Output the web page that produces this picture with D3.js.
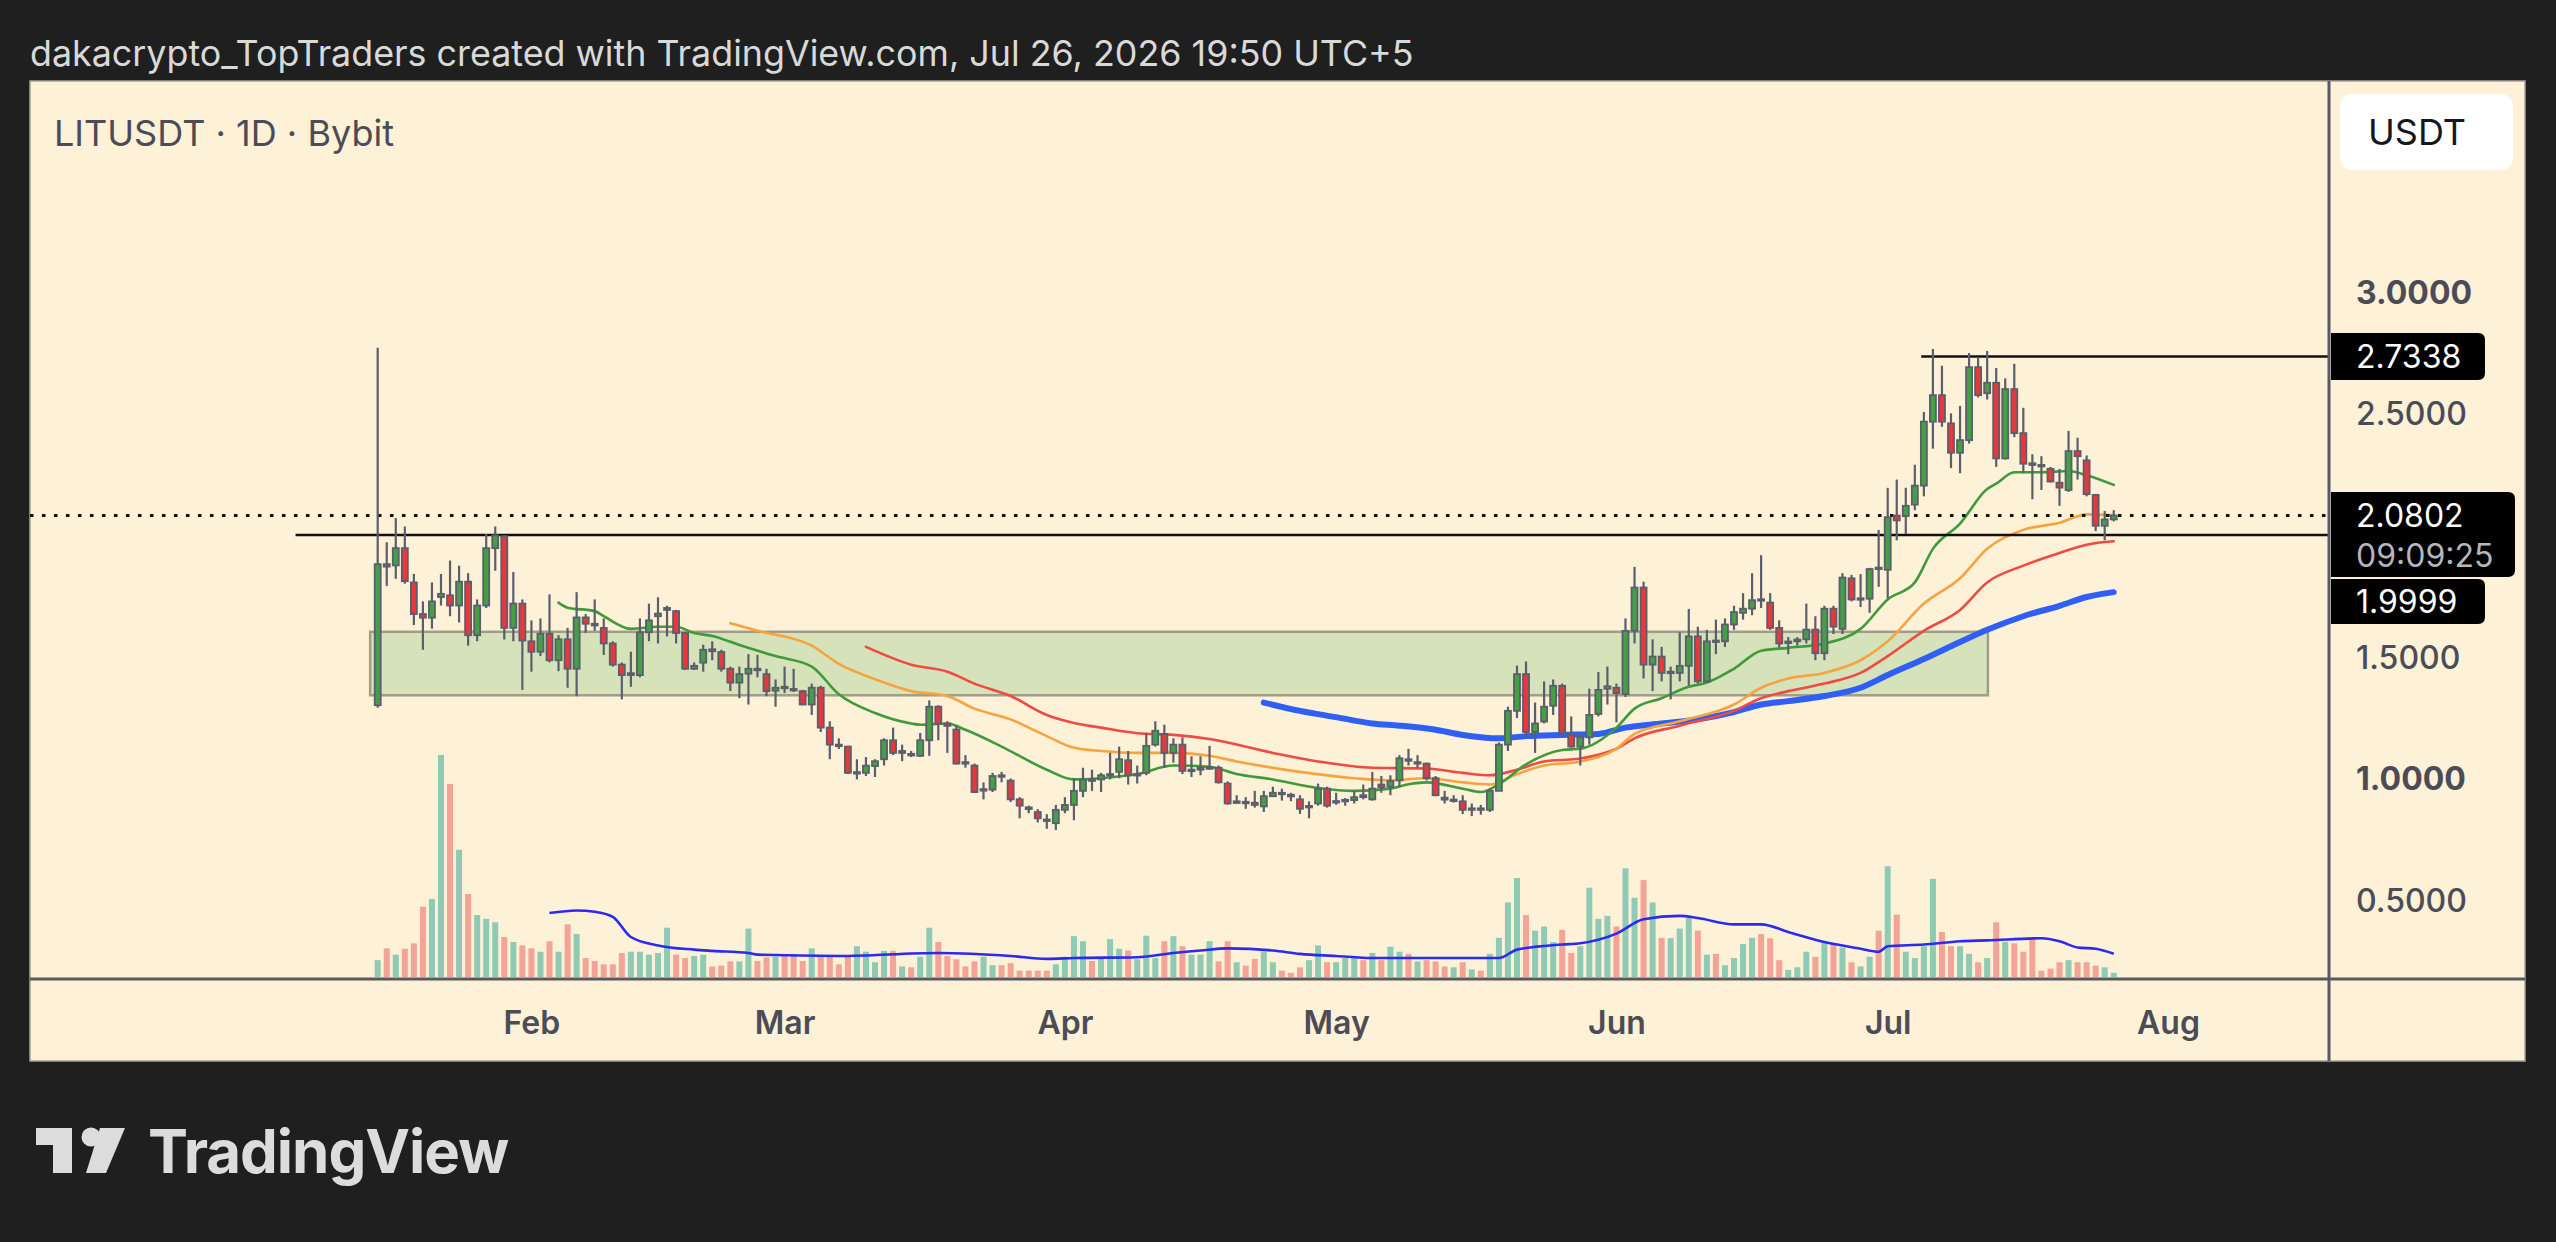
<!DOCTYPE html>
<html>
<head>
<meta charset="utf-8">
<script src="https://cdn.jsdelivr.net/npm/d3@7"></script>
<style>
html, body { margin: 0; padding: 0; background: #1f1f1f; }
svg { display: block; font-family: Inter, "Noto Sans", sans-serif; }
</style>
</head>
<body>
<svg id="chart" width="2556" height="1242"></svg>
<script>
// LITUSDT 1D candles, first candle on this day
const firstDay = "2026-01-15";

// [open, high, low, close]
const ohlc = [
  [1.30, 2.77, 1.29, 1.88], [1.88, 1.97, 1.79, 1.87], [1.875, 2.07, 1.82, 1.946], [1.946, 2.035, 1.80, 1.81],
  [1.805, 1.84, 1.63, 1.675], [1.675, 1.727, 1.528, 1.66], [1.66, 1.805, 1.615, 1.727], [1.745, 1.84, 1.71, 1.758],
  [1.752, 1.895, 1.666, 1.71], [1.71, 1.874, 1.64, 1.808], [1.808, 1.843, 1.545, 1.588], [1.588, 1.735, 1.563, 1.71],
  [1.71, 2.004, 1.70, 1.946], [1.946, 2.035, 1.853, 1.998], [1.995, 1.998, 1.57, 1.618], [1.618, 1.848, 1.563, 1.718],
  [1.718, 1.735, 1.363, 1.566], [1.563, 1.649, 1.438, 1.52], [1.52, 1.657, 1.502, 1.594], [1.594, 1.756, 1.476, 1.485],
  [1.485, 1.588, 1.44, 1.571], [1.571, 1.618, 1.372, 1.45], [1.45, 1.765, 1.337, 1.661], [1.661, 1.675, 1.597, 1.635],
  [1.635, 1.735, 1.606, 1.628], [1.618, 1.657, 1.507, 1.554], [1.554, 1.563, 1.459, 1.467], [1.467, 1.476, 1.324, 1.424],
  [1.424, 1.52, 1.376, 1.432], [1.424, 1.657, 1.415, 1.60], [1.60, 1.718, 1.563, 1.649], [1.666, 1.744, 1.554, 1.677],
  [1.692, 1.709, 1.583, 1.70], [1.687, 1.692, 1.554, 1.597], [1.597, 1.60, 1.445, 1.45], [1.45, 1.476, 1.445, 1.462],
  [1.475, 1.549, 1.438, 1.528], [1.53, 1.563, 1.485, 1.522], [1.519, 1.528, 1.438, 1.45], [1.45, 1.459, 1.358, 1.393],
  [1.393, 1.459, 1.329, 1.428], [1.43, 1.51, 1.303, 1.45], [1.45, 1.507, 1.415, 1.445], [1.428, 1.45, 1.337, 1.358],
  [1.36, 1.406, 1.294, 1.372], [1.376, 1.459, 1.35, 1.372], [1.367, 1.45, 1.355, 1.363], [1.358, 1.363, 1.30, 1.303],
  [1.303, 1.389, 1.26, 1.372], [1.372, 1.38, 1.19, 1.208], [1.208, 1.234, 1.078, 1.138], [1.138, 1.164, 1.12, 1.133],
  [1.13, 1.133, 1.017, 1.022], [1.022, 1.078, 0.995, 1.025], [1.022, 1.087, 1.009, 1.052], [1.05, 1.078, 1.005, 1.07],
  [1.078, 1.164, 1.052, 1.156], [1.156, 1.208, 1.095, 1.104], [1.104, 1.138, 1.07, 1.112], [1.10, 1.112, 1.087, 1.095],
  [1.092, 1.186, 1.087, 1.156], [1.156, 1.32, 1.092, 1.294], [1.294, 1.30, 1.156, 1.225], [1.225, 1.234, 1.104, 1.215],
  [1.20, 1.217, 1.057, 1.06], [1.066, 1.095, 1.043, 1.062], [1.052, 1.06, 0.94, 0.943], [0.95, 0.983, 0.913, 0.955],
  [0.953, 1.022, 0.943, 1.009], [1.012, 1.026, 0.983, 1.008], [0.99, 0.999, 0.902, 0.913], [0.913, 0.922, 0.835, 0.887],
  [0.88, 0.887, 0.856, 0.873], [0.861, 0.873, 0.818, 0.835], [0.83, 0.852, 0.792, 0.826], [0.815, 0.89, 0.787, 0.87],
  [0.87, 0.922, 0.856, 0.89], [0.89, 0.999, 0.827, 0.948], [0.948, 1.043, 0.922, 0.995], [0.995, 1.035, 0.948, 0.99],
  [0.995, 1.022, 0.943, 1.012], [1.012, 1.104, 0.995, 1.017], [1.026, 1.13, 1.00, 1.078], [1.074, 1.112, 0.974, 1.012],
  [1.012, 1.052, 0.978, 1.017], [1.022, 1.186, 1.012, 1.133], [1.138, 1.234, 1.13, 1.195], [1.182, 1.22, 1.043, 1.104],
  [1.104, 1.164, 1.064, 1.138], [1.138, 1.168, 1.017, 1.03], [1.03, 1.09, 1.005, 1.035], [1.035, 1.09, 1.012, 1.043],
  [1.043, 1.133, 1.035, 1.045], [1.043, 1.052, 0.978, 0.983], [0.978, 0.987, 0.891, 0.896], [0.898, 0.93, 0.896, 0.905],
  [0.903, 0.922, 0.874, 0.899], [0.899, 0.948, 0.879, 0.89], [0.884, 0.948, 0.861, 0.926], [0.926, 0.965, 0.926, 0.94],
  [0.94, 0.957, 0.908, 0.936], [0.932, 0.94, 0.905, 0.925], [0.913, 0.93, 0.853, 0.874], [0.88, 0.905, 0.835, 0.886],
  [0.896, 0.978, 0.887, 0.957], [0.957, 0.965, 0.879, 0.887], [0.90, 0.94, 0.891, 0.906], [0.906, 0.918, 0.887, 0.911],
  [0.91, 0.948, 0.896, 0.922], [0.93, 0.974, 0.913, 0.922], [0.913, 1.026, 0.908, 0.957], [0.974, 1.009, 0.94, 0.962],
  [0.965, 1.012, 0.93, 0.988], [0.991, 1.095, 0.965, 1.082], [1.078, 1.121, 1.052, 1.072], [1.062, 1.095, 1.043, 1.066],
  [1.06, 1.064, 0.991, 1.00], [1.00, 1.009, 0.926, 0.93], [0.92, 0.948, 0.896, 0.912], [0.908, 0.93, 0.90, 0.912],
  [0.905, 0.93, 0.853, 0.87], [0.872, 0.896, 0.844, 0.876], [0.876, 0.89, 0.85, 0.872], [0.87, 0.957, 0.861, 0.948],
  [0.948, 1.147, 0.948, 1.138], [1.138, 1.294, 1.112, 1.277], [1.277, 1.463, 1.247, 1.428], [1.428, 1.48, 1.168, 1.19],
  [1.19, 1.311, 1.104, 1.225], [1.233, 1.398, 1.225, 1.294], [1.298, 1.406, 1.26, 1.38], [1.38, 1.389, 1.178, 1.186],
  [1.178, 1.254, 1.126, 1.13], [1.13, 1.182, 1.052, 1.168], [1.168, 1.368, 1.138, 1.26], [1.264, 1.437, 1.254, 1.363],
  [1.368, 1.459, 1.303, 1.378], [1.372, 1.389, 1.23, 1.35], [1.346, 1.657, 1.334, 1.606], [1.606, 1.869, 1.554, 1.784],
  [1.784, 1.808, 1.41, 1.467], [1.467, 1.571, 1.358, 1.50], [1.50, 1.54, 1.398, 1.433], [1.433, 1.459, 1.324, 1.438],
  [1.433, 1.60, 1.398, 1.462], [1.462, 1.696, 1.38, 1.583], [1.583, 1.623, 1.389, 1.398], [1.398, 1.61, 1.393, 1.563],
  [1.566, 1.652, 1.51, 1.562], [1.563, 1.657, 1.54, 1.632], [1.632, 1.709, 1.61, 1.683], [1.68, 1.761, 1.652, 1.697],
  [1.697, 1.843, 1.67, 1.732], [1.736, 1.917, 1.70, 1.73], [1.722, 1.761, 1.61, 1.618], [1.618, 1.649, 1.537, 1.554],
  [1.556, 1.58, 1.51, 1.562], [1.563, 1.58, 1.545, 1.57], [1.571, 1.718, 1.554, 1.611], [1.611, 1.666, 1.485, 1.514],
  [1.514, 1.709, 1.485, 1.697], [1.697, 1.709, 1.593, 1.623], [1.614, 1.843, 1.593, 1.825], [1.822, 1.836, 1.727, 1.735],
  [1.736, 1.839, 1.704, 1.74], [1.738, 1.865, 1.68, 1.86], [1.866, 2.021, 1.787, 1.862], [1.857, 2.194, 1.739, 2.073],
  [2.08, 2.228, 1.978, 2.06], [2.078, 2.194, 2.004, 2.12], [2.125, 2.289, 2.102, 2.203], [2.203, 2.506, 2.159, 2.466],
  [2.466, 2.765, 2.355, 2.575], [2.575, 2.696, 2.445, 2.466], [2.459, 2.50, 2.275, 2.338], [2.338, 2.531, 2.254, 2.39],
  [2.39, 2.748, 2.376, 2.69], [2.69, 2.73, 2.566, 2.575], [2.583, 2.757, 2.557, 2.626], [2.626, 2.687, 2.28, 2.315],
  [2.315, 2.644, 2.31, 2.60], [2.60, 2.704, 2.402, 2.419], [2.419, 2.523, 2.255, 2.293], [2.295, 2.332, 2.147, 2.288],
  [2.288, 2.324, 2.185, 2.284], [2.272, 2.28, 2.216, 2.22], [2.215, 2.272, 2.12, 2.195], [2.185, 2.428, 2.177, 2.345],
  [2.345, 2.40, 2.228, 2.324], [2.307, 2.327, 2.159, 2.168], [2.165, 2.168, 2.016, 2.038], [2.038, 2.099, 1.978, 2.064],
  [2.064, 2.102, 2.056, 2.0802]
];

// daily volume (relative units)
const volumes = [
  40, 68, 53, 67, 80, 167, 185, 527, 458, 302, 197, 147, 138, 130, 95, 83, 75, 68, 60, 85,
  60, 125, 102, 45, 38, 30, 30, 57, 60, 60, 53, 57, 117, 53, 45, 50, 53, 25,
  27, 37, 37, 115, 38, 47, 48, 50, 55, 38, 68, 48, 48, 30, 48, 73, 60, 35, 62, 62, 25, 23,
  48, 117, 83, 50, 42, 25, 37, 48, 28, 28, 33, 15, 15, 15, 15, 30, 48,
  97, 85, 38, 45, 90, 67, 63, 42, 98, 45, 85, 97, 73, 53, 53, 85, 37, 85, 35, 27,
  43, 60, 35, 15, 10, 23, 40, 75, 35, 35, 45, 45, 40, 57, 40, 72, 60, 55, 37, 40, 37,
  25, 23, 35, 18, 15, 55, 93, 177, 235, 147, 110, 120, 83, 112, 57, 73, 212, 138, 145, 120,
  258, 188, 230, 177, 93, 92, 115, 140, 110, 53, 55, 28, 45, 78, 93, 102, 92, 40, 17,
  23, 60, 48, 83, 80, 70, 35, 25, 48, 110, 263, 148, 60, 45, 73, 233, 107, 73, 73, 55,
  35, 45, 130, 83, 80, 60, 90, 15, 20, 35, 40, 35, 35, 27, 23, 10
];

// moving averages: [day index, value]
const maGreen = [
  [20, 1.722], [21, 1.701], [24, 1.687], [25, 1.666], [28, 1.614], [31, 1.623], [33, 1.623], [35, 1.597],
  [37, 1.585], [40, 1.548], [44, 1.502], [48, 1.459], [51, 1.345], [55, 1.268], [59, 1.225], [60, 1.22],
  [63, 1.225], [65, 1.199], [69, 1.13], [74, 1.035], [77, 0.995], [80, 1.0], [84, 1.017], [88, 1.052],
  [92, 1.047], [95, 1.017], [99, 0.995], [104, 0.96], [108, 0.948], [112, 0.957], [114, 0.975], [116, 0.983],
  [120, 0.957], [122, 0.943], [124, 0.975], [127, 1.057], [131, 1.116], [133, 1.121], [137, 1.208], [139, 1.286],
  [142, 1.329], [145, 1.376], [147, 1.393], [150, 1.45], [153, 1.524], [156, 1.536], [160, 1.554], [164, 1.614],
  [167, 1.735], [170, 1.805], [172, 1.943], [175, 2.047], [178, 2.189], [179, 2.211], [181, 2.258], [184, 2.258],
  [187, 2.263], [189, 2.246], [192, 2.206]
];
const maOrange = [
  [39, 1.637], [42, 1.606], [48, 1.545], [51, 1.47], [55, 1.407], [59, 1.358], [63, 1.338], [66, 1.286],
  [70, 1.242], [74, 1.173], [77, 1.125], [80, 1.112], [84, 1.104], [88, 1.104], [92, 1.092], [95, 1.069],
  [102, 1.026], [108, 1.0], [112, 0.991], [116, 1.0], [120, 0.983], [123, 0.974], [126, 1.017], [129, 1.052],
  [133, 1.069], [137, 1.121], [139, 1.182], [144, 1.234], [150, 1.303], [153, 1.372], [156, 1.41], [160, 1.433],
  [164, 1.485], [167, 1.563], [171, 1.718], [175, 1.822], [178, 1.943], [182, 2.021], [186, 2.05], [189, 2.085],
  [192, 2.081]
];
const maRed = [
  [54, 1.54], [59, 1.467], [63, 1.438], [66, 1.389], [70, 1.338], [74, 1.26], [77, 1.227], [80, 1.208],
  [84, 1.185], [88, 1.178], [92, 1.161], [99, 1.104], [104, 1.069], [110, 1.043], [116, 1.04], [120, 1.022],
  [123, 1.012], [126, 1.035], [129, 1.069], [133, 1.081], [137, 1.121], [139, 1.164], [144, 1.216], [150, 1.277],
  [153, 1.329], [156, 1.358], [160, 1.389], [164, 1.433], [167, 1.502], [171, 1.606], [175, 1.692], [178, 1.805],
  [182, 1.874], [186, 1.926], [189, 1.96], [192, 1.974]
];
const maBlue = [
  [98, 1.311], [102, 1.277], [106, 1.251], [110, 1.225], [113, 1.216], [117, 1.199], [120, 1.178], [124, 1.164],
  [127, 1.173], [131, 1.178], [135, 1.182], [138, 1.208], [142, 1.225], [146, 1.242], [150, 1.272], [153, 1.303],
  [156, 1.317], [160, 1.338], [164, 1.372], [167, 1.424], [171, 1.49], [175, 1.56], [178, 1.61], [182, 1.666],
  [186, 1.709], [189, 1.745], [192, 1.765]
];
const maVolume = [
  [19, 152], [22, 158], [24, 155], [26, 143], [28, 95], [31, 75], [35, 65], [37, 62], [41, 57], [42, 53],
  [51, 50], [62, 57], [70, 50], [74, 43], [77, 45], [84, 47], [88, 57], [91, 63], [94, 68], [99, 63],
  [102, 55], [106, 50], [110, 45], [117, 45], [124, 45], [126, 65], [131, 77], [133, 80], [137, 103], [140, 137],
  [144, 145], [146, 140], [150, 125], [153, 125], [156, 107], [160, 83], [164, 67], [166, 60], [167, 73], [171, 77],
  [175, 85], [178, 87], [184, 92], [186, 85], [188, 70], [190, 67], [192, 55]
];

// drawings
const rangeBox = { from: "2026-01-14T04:00Z", to: "2026-07-12T02:00Z", top: 1.602, bottom: 1.341 };
const resistance = { from: "2026-07-04T17:00Z", price: 2.7338 };
const support = { from: "2026-01-05T22:00Z", price: 1.9999 };
const lastPrice = 2.0802;
const countdown = "09:09:25";

const monthTicks = ["2026-02-01", "2026-03-01", "2026-04-01", "2026-05-01", "2026-06-01", "2026-07-01", "2026-08-01"];
const priceTicks = [0.5, 1.0, 1.5, 2.5, 3.0];
const boldTicks = [1.0, 3.0];

const headerText = "dakacrypto_TopTraders created with TradingView.com, Jul 26, 2026 19:50 UTC+5";
const titleText = "LITUSDT · 1D · Bybit";

// ---------------------------------------------------------------
const svg = d3.select("#chart");
const panel = { x: 30, y: 81, w: 2495, h: 980 };
const axisX = 2329, timeY = 979;
const UP = "#43a047", DOWN = "#e8383b", EDGE = "#5b5e6b";
const VOL_UP = "#8fcab4", VOL_DOWN = "#f3a496";
const TEXT = "#4c4c56";

const day0 = new Date(firstDay + "T00:00Z");
const dayAt = i => d3.utcDay.offset(day0, i);
const candles = ohlc.map((r, i) => ({ date: dayAt(i), o: r[0], h: r[1], l: r[2], c: r[3], v: volumes[i] }));

const x = d3.scaleUtc()
  .domain([new Date("2026-01-15T00:00Z"), new Date("2026-08-01T00:00Z")])
  .range([377.7, 2168.0]);
const y = d3.scaleLinear().domain([0.5, 3.0]).range([899.8, 291.8]);
const yVol = d3.scaleLinear().domain([0, 527]).range([977, 755]);

function fitText(sel, width) {
  const w = sel.node().getComputedTextLength();
  const fs = parseFloat(sel.attr("font-size"));
  sel.attr("font-size", (fs * width / w).toFixed(2));
}

// header
const header = svg.append("text")
  .attr("x", 30).attr("y", 66)
  .attr("font-size", 32).attr("fill", "#d9d9d9")
  .text(headerText);
fitText(header, 1384);

// panel background
svg.append("rect")
  .attr("x", panel.x).attr("y", panel.y)
  .attr("width", panel.w).attr("height", panel.h)
  .attr("fill", "#fdf1d7").attr("stroke", "#a7a299").attr("stroke-width", 1.5);

svg.append("clipPath").attr("id", "plot")
  .append("rect").attr("x", panel.x).attr("y", panel.y)
  .attr("width", axisX - panel.x).attr("height", timeY - panel.y);

const plot = svg.append("g").attr("clip-path", "url(#plot)");

// range box
plot.append("rect")
  .attr("x", x(new Date(rangeBox.from)))
  .attr("y", y(rangeBox.top))
  .attr("width", x(new Date(rangeBox.to)) - x(new Date(rangeBox.from)))
  .attr("height", y(rangeBox.bottom) - y(rangeBox.top))
  .attr("fill", "#d5e2ba")
  .attr("stroke", "#a29d89").attr("stroke-width", 2.5);

// volume bars
plot.append("g").selectAll("rect")
  .data(candles).join("rect")
  .attr("x", d => x(d.date) - 3)
  .attr("width", 6)
  .attr("y", d => yVol(d.v))
  .attr("height", d => yVol(0) - yVol(d.v))
  .attr("fill", d => d.c >= d.o ? VOL_UP : VOL_DOWN);

// volume MA
plot.append("path")
  .datum(maVolume)
  .attr("fill", "none").attr("stroke", "#2a2af0").attr("stroke-width", 2.6)
  .attr("d", d3.line().x(d => x(dayAt(d[0]))).y(d => yVol(d[1])).curve(d3.curveMonotoneX));

// price MAs
const maLine = d3.line().x(d => x(dayAt(d[0]))).y(d => y(d[1])).curve(d3.curveMonotoneX);
[
  { data: maBlue, color: "#2f5ff5", width: 6 },
  { data: maRed, color: "#ef4a43", width: 2.6 },
  { data: maOrange, color: "#f7a33f", width: 2.6 },
  { data: maGreen, color: "#3f9a3c", width: 2.6 }
].forEach(m => {
  plot.append("path").datum(m.data)
    .attr("fill", "none").attr("stroke", m.color)
    .attr("stroke-width", m.width).attr("stroke-linecap", "round")
    .attr("d", maLine);
});

// horizontal levels
plot.append("line")
  .attr("x1", panel.x).attr("x2", axisX)
  .attr("y1", y(lastPrice)).attr("y2", y(lastPrice))
  .attr("stroke", "#111").attr("stroke-width", 3)
  .attr("stroke-dasharray", "3.5 8.5");
[resistance, support].forEach(l => {
  plot.append("line")
    .attr("x1", x(new Date(l.from))).attr("x2", axisX)
    .attr("y1", y(l.price)).attr("y2", y(l.price))
    .attr("stroke", "#111").attr("stroke-width", 2.6);
});

// candles
const cg = plot.append("g").selectAll("g").data(candles).join("g");
cg.append("line")
  .attr("x1", d => x(d.date)).attr("x2", d => x(d.date))
  .attr("y1", d => y(d.h)).attr("y2", d => y(d.l))
  .attr("stroke", EDGE).attr("stroke-width", 2.2);
cg.append("rect")
  .attr("x", d => x(d.date) - 3)
  .attr("width", 6)
  .attr("y", d => y(Math.max(d.o, d.c)))
  .attr("height", d => Math.max(1.5, Math.abs(y(d.o) - y(d.c))))
  .attr("fill", d => d.c >= d.o ? UP : DOWN)
  .attr("stroke", EDGE).attr("stroke-width", 1.8);

// axes separators
svg.append("line").attr("x1", panel.x).attr("x2", panel.x + panel.w)
  .attr("y1", timeY).attr("y2", timeY).attr("stroke", "#595863").attr("stroke-width", 3);
svg.append("line").attr("x1", axisX).attr("x2", axisX)
  .attr("y1", panel.y).attr("y2", panel.y + panel.h).attr("stroke", "#595863").attr("stroke-width", 3);

// time axis
const xAxis = svg.append("g")
  .attr("transform", `translate(0,${timeY})`)
  .call(d3.axisBottom(x)
    .tickValues(monthTicks.map(s => new Date(s + "T00:00Z")))
    .tickFormat(d3.utcFormat("%b"))
    .tickSize(0).tickPadding(0));
xAxis.select(".domain").remove();
xAxis.selectAll("text")
  .attr("y", 55).attr("dy", null)
  .attr("font-family", "Inter, 'Noto Sans', sans-serif")
  .attr("font-size", 32).attr("font-weight", 600).attr("fill", TEXT);

// price axis
const yAxis = svg.append("g")
  .attr("transform", `translate(${axisX},0)`)
  .call(d3.axisRight(y).tickValues(priceTicks).tickFormat(d3.format(".4f")).tickSize(0).tickPadding(0));
yAxis.select(".domain").remove();
yAxis.selectAll("text")
  .attr("x", 27).attr("dy", "0.36em")
  .attr("font-family", "Inter, 'Noto Sans', sans-serif")
  .attr("font-size", 32)
  .attr("font-weight", d => boldTicks.includes(d) ? 700 : 500)
  .attr("fill", TEXT);

// price labels on the axis
function tagPath(x0, y0, w, h, r) {
  return `M${x0},${y0} H${x0 + w - r} Q${x0 + w},${y0} ${x0 + w},${y0 + r} V${y0 + h - r} Q${x0 + w},${y0 + h} ${x0 + w - r},${y0 + h} H${x0} Z`;
}
const tags = svg.append("g");
const resTop = y(resistance.price) - 23.5;
tags.append("path").attr("d", tagPath(axisX + 2, resTop, 154, 47, 7)).attr("fill", "#000");
tags.append("text").attr("x", axisX + 27).attr("y", resTop + 23.5).attr("dy", "0.36em")
  .attr("font-size", 32).attr("fill", "#fff").text(d3.format(".4f")(resistance.price));

const lastTop = y(lastPrice) - 23.5;
tags.append("path").attr("d", tagPath(axisX + 2, lastTop, 184, 85, 7)).attr("fill", "#000");
tags.append("text").attr("x", axisX + 27).attr("y", lastTop + 23.5).attr("dy", "0.36em")
  .attr("font-size", 32).attr("fill", "#fff").text(d3.format(".4f")(lastPrice));
tags.append("text").attr("x", axisX + 27).attr("y", lastTop + 63).attr("dy", "0.36em")
  .attr("font-size", 32).attr("fill", "#b4b6bd").text(countdown);

const supTop = Math.max(y(support.price) - 23.5, lastTop + 87);
tags.append("path").attr("d", tagPath(axisX + 2, supTop, 154, 45, 7)).attr("fill", "#000");
tags.append("text").attr("x", axisX + 27).attr("y", supTop + 22.5).attr("dy", "0.36em")
  .attr("font-size", 32).attr("fill", "#fff").text(d3.format(".4f")(support.price));

// currency button
svg.append("rect").attr("x", 2340).attr("y", 94).attr("width", 173).attr("height", 76)
  .attr("rx", 12).attr("fill", "#ffffff");
svg.append("text").attr("x", 2368).attr("y", 145)
  .attr("font-size", 36).attr("fill", "#131722").text("USDT");

// symbol title
const title = svg.append("text")
  .attr("x", 54).attr("y", 146)
  .attr("font-size", 32).attr("fill", TEXT)
  .text(titleText);
fitText(title, 340);

// TradingView logo
const logo = svg.append("g").attr("fill", "#dcdcdc");
logo.append("path").attr("d", "M36,1128 H72 V1173 H53 V1145 H36 Z");
logo.append("circle").attr("cx", 91).attr("cy", 1137).attr("r", 9.5);
logo.append("path").attr("d", "M100,1128 H125 L106,1173 H86 Z");
const logoText = logo.append("text")
  .attr("x", 148).attr("y", 1173)
  .attr("font-size", 64).attr("font-weight", 700)
  .attr("letter-spacing", -1)
  .text("TradingView");
fitText(logoText, 361);
</script>
</body>
</html>
